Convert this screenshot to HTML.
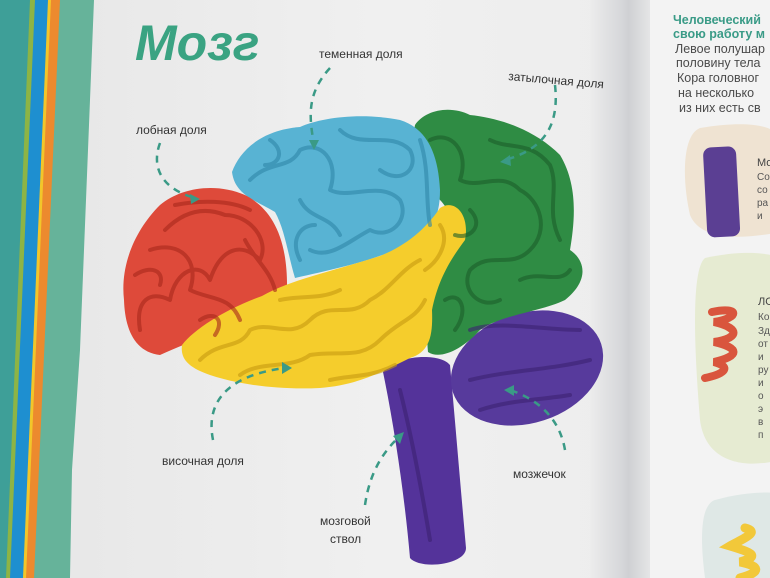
<!DOCTYPE html>
<html><head><meta charset="utf-8"><style>
html,body{margin:0;padding:0;width:770px;height:578px;overflow:hidden;background:#ecebeb}
svg{display:block}
text{font-family:"Liberation Sans",sans-serif}
</style></head><body>
<svg width="770" height="578" viewBox="0 0 770 578" xmlns="http://www.w3.org/2000/svg">
<defs>
<linearGradient id="pg" x1="0" x2="1" y1="0" y2="0">
<stop offset="0" stop-color="#e6e6e6"/><stop offset="0.5" stop-color="#f0f0f0"/><stop offset="1" stop-color="#ebebeb"/>
</linearGradient>
<linearGradient id="gut" x1="0" x2="1" y1="0" y2="0">
<stop offset="0" stop-color="#ececec"/><stop offset="0.45" stop-color="#d6d7da"/><stop offset="0.55" stop-color="#cfd0d3"/><stop offset="1" stop-color="#efefef"/>
</linearGradient>
</defs>
<rect width="770" height="578" fill="url(#pg)"/>
<rect x="590" y="0" width="70" height="578" fill="url(#gut)"/>
<rect x="650" y="0" width="120" height="578" fill="#f3f3f3"/>
<polygon points="0,0 32,0 8,578 0,578" fill="#3e9f98"/>
<polygon points="30,0 36,0 12,578 6,578" fill="#8db445"/>
<polygon points="35,0 49,0 24,578 10,578" fill="#1e8fd0"/>
<polygon points="48,0 52,0 27,578 23,578" fill="#f2c62a"/>
<polygon points="51,0 61,0 36,578 26,578" fill="#ec8a2e"/>
<polygon points="60,0 94,0 88,150 80,350 72,470 70,578 34,578" fill="#66b39a"/>
<text x="135" y="60" font-size="50" font-weight="bold" font-style="italic" fill="#3aa382">Мозг</text>
<g font-size="12.5" fill="#4a4a4a">
<text x="673" y="24" fill="#3a9b87" font-weight="bold">Человеческий</text>
<text x="673" y="38" fill="#3a9b87" font-weight="bold">свою работу м</text>
<text x="675" y="53">Левое полушар</text>
<text x="676" y="67">половину тела</text>
<text x="677" y="82">Кора головног</text>
<text x="678" y="97">на несколько</text>
<text x="679" y="112">из них есть св</text>
</g>
<path d="M700,128 C760,118 780,130 780,140 L780,232 C740,240 700,240 690,215 C682,180 682,135 700,128Z" fill="#efe3d2"/>
<rect x="705" y="147" width="33" height="90" rx="8" fill="#5b3f93" transform="rotate(-3 720 190)"/>
<text x="757" y="166" font-size="11" fill="#444">Мо</text>
<text x="757" y="180" font-size="10" fill="#555">Со</text>
<text x="757" y="193" font-size="10" fill="#555">со</text>
<text x="757" y="206" font-size="10" fill="#555">ра</text>
<text x="757" y="219" font-size="10" fill="#555">и</text>
<path d="M705,258 C750,248 780,255 780,260 L780,460 C740,470 705,460 700,420 C695,360 690,270 705,258Z" fill="#e6ebd2"/>
<path d="M712,312 C740,306 740,318 714,322 C740,328 740,338 714,342 C740,348 740,356 714,362 C735,368 720,375 705,378" stroke="#d9553d" stroke-width="8" fill="none" stroke-linecap="round"/>
<text x="758" y="305" font-size="11" fill="#444">ЛО</text>
<g font-size="10" fill="#555"><text x="758" y="320">Ко</text><text x="758" y="334">Зд</text><text x="758" y="347">от</text><text x="758" y="360">и</text><text x="758" y="373">ру</text><text x="758" y="386">и</text><text x="758" y="399">о</text><text x="758" y="412">э</text><text x="758" y="425">в</text><text x="758" y="438">п</text></g>
<path d="M715,500 C750,490 780,492 780,495 L780,578 L705,578 C700,540 700,505 715,500Z" fill="#dfe8e6"/>
<path d="M745,528 C762,532 740,540 730,546 C750,552 762,556 740,562 C760,566 762,572 740,578" stroke="#f2c83a" stroke-width="9" fill="none" stroke-linecap="round"/>

<path d="M383,372 C395,355 440,352 450,365 C455,420 460,480 466,548 C466,565 420,570 410,558 C405,500 395,430 383,372Z" fill="#54339a"/>
<ellipse cx="527" cy="368" rx="78" ry="55" transform="rotate(-18 527 368)" fill="#573a9c"/>
<path d="M415,125 C425,110 450,105 470,115 C500,118 535,130 560,155 C578,185 575,220 570,250 C585,260 590,280 565,300 C540,312 500,315 480,330 C462,350 440,360 428,352 C425,320 430,290 440,262 C460,245 455,215 440,200 C425,180 410,150 415,125Z" fill="#2f8c44"/>
<path d="M232,172 C240,150 262,130 300,127 C320,118 360,112 400,120 C425,128 438,150 440,190 C440,220 430,232 410,242 C385,258 340,268 295,278 C288,255 285,230 275,212 C255,200 235,195 232,172Z" fill="#58b3d3"/>
<path d="M124,300 C120,265 135,230 160,205 C180,188 215,182 245,195 C270,208 288,235 287,290 C265,296 245,315 220,332 C195,340 175,348 160,355 C135,352 125,330 124,300Z" fill="#de4a3a"/>
<path d="M182,345 C195,328 228,308 262,296 C290,280 330,272 380,256 C405,246 425,230 440,208 C455,198 470,215 465,240 C450,260 438,280 432,310 C433,335 430,352 410,358 C385,370 360,385 320,388 C280,390 240,385 210,375 C190,368 180,360 182,345Z" fill="#f5cd2c"/>
<g fill="none" stroke-linecap="round" stroke-linejoin="round" stroke-width="4" opacity="0.6">
<g stroke="#a8281c">
<path d="M140,330 C135,300 150,290 170,300 C175,270 200,260 210,280 C220,250 240,240 260,260 C270,240 250,215 225,215 C200,205 180,215 165,230"/>
<path d="M150,250 C180,240 200,260 190,290 C210,300 230,295 240,320"/>
<path d="M175,205 C200,200 230,200 250,210 M135,275 C150,265 165,270 160,285 M245,240 C255,260 270,270 275,290 M200,320 C215,310 225,320 215,335"/>
</g>
<g stroke="#2f87a8">
<path d="M250,180 C270,160 290,170 300,150 C320,140 340,160 330,190 C350,200 380,180 400,200 C410,220 390,240 370,230 C350,240 330,260 310,250"/>
<path d="M340,130 C360,150 390,130 410,150 C420,170 400,185 380,170"/>
<path d="M300,200 C310,220 330,215 340,235 M270,140 C285,150 280,165 265,165 M420,140 C430,170 425,200 430,225 M300,260 C290,240 300,225 315,225"/>
</g>
<g stroke="#1c5f2b">
<path d="M430,140 C450,130 470,150 460,180 C480,190 500,170 520,190 C540,200 550,230 530,250 C510,270 490,250 470,270 C460,290 480,310 500,300"/>
<path d="M490,140 C510,150 530,140 550,165 C560,190 545,210 560,240"/>
<path d="M445,300 C460,290 470,310 455,330 M520,280 C540,270 560,285 570,270 M470,210 C485,225 470,240 455,235"/>
</g>
<g stroke="#c79a10">
<path d="M200,360 C220,340 240,350 250,330 C270,320 290,340 310,320 C330,300 350,320 370,300 C390,290 400,270 420,260"/>
<path d="M240,375 C260,360 290,370 310,355 C340,350 360,360 380,340 C400,320 415,320 425,300"/>
<path d="M280,300 C300,295 320,300 340,290 M440,225 C450,240 440,260 425,270 M330,380 C350,375 370,378 395,365"/>
</g>
<path d="M400,390 C410,430 420,480 430,540" stroke="#3c2272"/>
<path d="M470,330 C500,320 540,330 580,330 M470,380 C510,370 550,370 590,360 M480,410 C510,400 540,400 570,395" stroke="#3c2272"/>
</g>
<g font-size="12" fill="#333">
<text x="319" y="58">теменная доля</text>
<text x="508" y="80" transform="rotate(5 508 80)">затылочная доля</text>
<text x="136" y="134">лобная доля</text>
<text x="162" y="465">височная доля</text>
<text x="513" y="478">мозжечок</text>
<text x="320" y="525">мозговой</text>
<text x="330" y="543">ствол</text>
</g>
<g fill="none" stroke="#3a9a86" stroke-width="2.5" stroke-dasharray="7 6">
<path d="M330,68 C305,95 310,120 314,145"/>
<path d="M555,85 C560,130 540,150 505,160"/>
<path d="M160,143 C150,170 165,190 195,198"/>
<path d="M213,440 C205,400 230,375 285,368"/>
<path d="M565,450 C560,420 540,400 510,390"/>
<path d="M365,505 C370,470 385,450 400,436"/>
</g>
<g fill="#3a9a86">
<polygon points="314,150 309,140 319,140"/>
<polygon points="500,162 510,155 511,166"/>
<polygon points="200,199 190,194 191,204"/>
<polygon points="292,368 282,362 282,374"/>
<polygon points="504,390 514,385 514,396"/>
<polygon points="404,432 393,436 400,444"/>
</g>
</svg>
</body></html>
